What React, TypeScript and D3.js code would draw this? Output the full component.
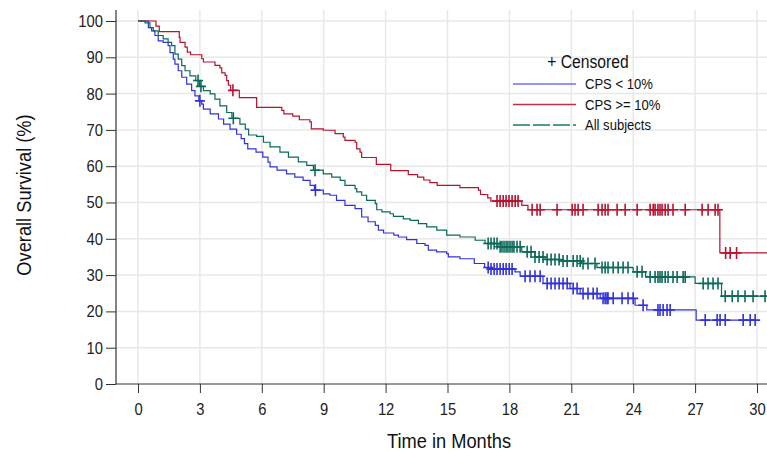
import React, { useEffect, useRef } from "react";
import * as d3 from "d3";

// axis ticks
const xTicks = [0, 3, 6, 9, 12, 15, 18, 21, 24, 27, 30];
const yTicks = [0, 10, 20, 30, 40, 50, 60, 70, 80, 90, 100];

// Kaplan-Meier steps: [month, survival %]
const cpsLowSteps: [number, number][] = [
  [0, 100], [0.5, 98.2], [0.66, 97.3], [0.82, 96], [0.98, 94.5], [1.22, 94.1], [1.46, 93.2],
  [1.55, 91.3], [1.71, 89.5], [1.79, 88.1], [1.95, 86.3], [2.12, 84.5], [2.36, 82.6], [2.6, 80.8],
  [2.76, 79.4], [2.95, 78.0], [3.09, 77.1], [3.17, 75.7], [3.5, 74.4], [3.9, 73.0], [4.15, 71.6],
  [4.46, 70.2], [4.78, 68.8], [5.0, 67.6], [5.16, 66.2], [5.32, 64.8], [5.72, 63.9], [6.05, 62.5],
  [6.3, 61.1], [6.4, 59.8], [6.74, 58.9], [7.2, 57.9], [7.6, 57.0], [8.0, 56.1], [8.34, 54.7],
  [8.55, 53.4], [8.98, 52.4], [9.3, 52.0], [9.62, 50.6], [10.03, 49.2], [10.52, 48.3], [10.84, 46.0],
  [11.15, 44.7], [11.5, 43.7], [11.65, 42.4], [11.9, 41.6], [12.4, 41.0], [12.62, 40.5], [13.02, 39.8],
  [13.51, 38.7], [13.91, 38.2], [14.07, 36.9], [14.47, 36.4], [14.96, 35.9], [15.04, 35.0], [15.6, 34.5],
  [16.3, 33.2], [16.8, 32.1], [17.0, 31.7], [18.27, 30.9], [18.52, 29.7], [19.63, 27.7], [20.94, 26.3],
  [21.43, 24.9], [22.4, 23.6], [24.09, 21.7], [24.66, 20.4], [27.05, 17.6],
];
const cpsLowEnd = 29.95;
const cpsLowCensored = [
  3.0, 8.6, 16.97, 17.11, 17.26, 17.4, 17.55, 17.7, 17.84, 17.99, 18.13, 18.76, 19.0, 19.24, 19.49,
  19.83, 20.02, 20.21, 20.41, 20.6, 20.8, 21.09, 21.28, 21.57, 21.81, 22.06, 22.25, 22.54, 22.64,
  22.73, 22.78, 23.03, 23.46, 23.75, 24.0, 24.48, 25.2, 25.3, 25.45, 25.64, 25.79, 27.49, 28.07,
  28.21, 28.46, 29.33, 29.67, 29.91,
];

const cpsHighSteps: [number, number][] = [
  [0, 100], [0.87, 98.6], [1.03, 97.1], [2.0, 95.5], [2.04, 94.1], [2.28, 92.8], [2.39, 91.4],
  [2.55, 90.7], [3.09, 89.6], [3.17, 88.7], [3.73, 87.8], [3.97, 87.1], [4.06, 85.7], [4.22, 85.0],
  [4.3, 83.6], [4.38, 82.3], [4.49, 80.9], [4.91, 78.9], [5.75, 76.2], [6.97, 75.4], [7.07, 74.4],
  [7.5, 73.8], [7.82, 72.8], [8.33, 72.2], [8.4, 70.3], [8.98, 69.9], [9.55, 69.0], [9.95, 68.0],
  [10.03, 67.1], [10.52, 66.6], [10.6, 64.8], [10.76, 63.9], [10.84, 62.4], [11.55, 60.5], [12.25, 58.8],
  [13.1, 57.7], [13.55, 57.0], [13.85, 56.2], [14.15, 55.5], [14.5, 54.7], [15.6, 54.1], [16.5, 53.4],
  [16.6, 52.2], [16.95, 51.3], [17.1, 50.4], [18.6, 49.2], [18.9, 48.0], [28.2, 36.1],
];
const cpsHighEnd = 30.6;
const cpsHighCensored = [
  4.6, 17.4, 17.55, 17.7, 17.84, 17.98, 18.13, 18.28, 18.42, 19.1, 19.34, 19.49, 20.31, 21.04, 21.18,
  21.33, 21.57, 22.3, 22.49, 22.64, 22.78, 23.22, 23.61, 24.19, 24.82, 24.97, 25.06, 25.2, 25.3, 25.4,
  25.55, 25.69, 25.93, 26.52, 27.34, 27.63, 27.97, 28.11, 28.48, 28.7, 29.01,
];

const allSteps: [number, number][] = [
  [0, 100], [0.34, 99.5], [0.58, 98.2], [0.74, 97.3], [0.98, 96.0], [1.22, 95.1], [1.46, 94.1],
  [1.63, 93.2], [1.79, 90.9], [1.95, 89.5], [2.12, 87.7], [2.28, 86.3], [2.52, 84.9], [2.8, 83.6],
  [2.98, 82.0], [3.17, 80.8], [3.5, 79.9], [3.73, 78.5], [3.97, 76.6], [4.3, 74.8], [4.55, 73.2],
  [4.94, 71.6], [5.2, 70.2], [5.36, 68.6], [5.75, 68.2], [6.08, 66.6], [6.4, 65.3], [6.88, 63.9],
  [7.29, 62.5], [7.77, 61.2], [8.18, 60.2], [8.5, 58.9], [8.98, 57.9], [9.39, 57.0], [9.8, 56.1],
  [10.03, 54.7], [10.52, 53.8], [10.6, 52.9], [10.84, 52.0], [11.08, 50.6], [11.5, 49.7], [11.57, 48.0],
  [11.82, 47.4], [12.22, 46.9], [12.38, 46.2], [12.86, 45.5], [13.19, 45.1], [13.59, 44.2], [13.99, 43.3],
  [14.48, 42.4], [14.96, 41.0], [15.6, 40.5], [16.34, 39.6], [16.82, 38.7], [17.45, 37.8], [18.6, 36.4],
  [19.24, 35.0], [19.73, 34.3], [20.5, 33.9], [21.5, 33.2], [22.24, 32.1], [24.0, 30.9], [24.6, 29.5],
  [27.0, 27.7], [28.28, 24.2],
];
const allEnd = 30.6;
const allCensored = [
  2.91, 3.05, 4.62, 8.58, 16.97, 17.11, 17.26, 17.4, 17.55, 17.64, 17.74, 17.84, 17.93, 18.03, 18.13,
  18.22, 18.37, 18.52, 18.86, 19.05, 19.24, 19.44, 19.63, 19.83, 20.02, 20.21, 20.41, 20.6, 20.8,
  21.09, 21.28, 21.43, 21.57, 21.81, 22.15, 22.49, 22.64, 22.78, 23.03, 23.27, 23.51, 23.75, 24.19,
  24.43, 24.82, 25.06, 25.2, 25.3, 25.4, 25.55, 25.69, 25.93, 26.13, 26.42, 26.52, 27.39, 27.63,
  27.87, 28.11, 28.46, 28.8, 29.08, 29.42, 29.81, 30.39,
];

const seriesNames = ["CPS < 10%", "CPS >= 10%", "All subjects"];
const seriesColors = ["#3232dc", "#b8122e", "#0b6a5a"];
const legendColors = ["#7070f0", "#c03040", "#1a7a66"];

const survivalAt = (steps: [number, number][], t: number) => {
  let s = steps[0][1];
  steps.forEach(([ti, si]) => {
    if (ti <= t) s = si;
  });
  return s;
};

const App = () => {
  const svgRef = useRef<SVGSVGElement>(null);

  useEffect(() => {
    const width = 767,
      height = 456;
    const font = "'Liberation Sans', Arial, sans-serif";
    const narrow = 0.87; // reference text is condensed

    const svg = d3.select(svgRef.current);
    svg.selectAll("*").remove();
    svg.attr("width", width).attr("height", height);

    const x = d3.scaleLinear().domain([0, 30]).range([138, 757]);
    const y = d3.scaleLinear().domain([0, 100]).range([384, 21]);
    const left = 116,
      top = 10;

    // gridlines
    svg
      .append("g")
      .selectAll("line")
      .data(xTicks)
      .enter()
      .append("line")
      .attr("x1", (d) => x(d))
      .attr("x2", (d) => x(d))
      .attr("y1", top)
      .attr("y2", y(0))
      .attr("stroke", "#e8e8e8")
      .attr("stroke-width", 1.5);

    svg
      .append("g")
      .selectAll("line")
      .data(yTicks.slice(1))
      .enter()
      .append("line")
      .attr("x1", left)
      .attr("x2", width)
      .attr("y1", (d) => y(d))
      .attr("y2", (d) => y(d))
      .attr("stroke", "#e8e8e8")
      .attr("stroke-width", 1.5);

    // x axis
    const gx = svg
      .append("g")
      .attr("transform", `translate(0, ${y(0)})`)
      .call(d3.axisBottom(x).tickValues(xTicks).tickSize(9).tickPadding(10));
    gx.select(".domain").remove();
    gx.selectAll("line").attr("stroke", "#333");
    gx.selectAll("text")
      .attr("font-family", font)
      .attr("font-size", 17)
      .attr("fill", "#222")
      .attr("transform", `scale(${narrow},1)`);

    // y axis
    const gy = svg
      .append("g")
      .attr("transform", `translate(${left}, 0)`)
      .call(d3.axisLeft(y).tickValues(yTicks).tickSize(10).tickPadding(3));
    gy.select(".domain").remove();
    gy.selectAll("line").attr("stroke", "#333");
    gy.selectAll("text")
      .attr("font-family", font)
      .attr("font-size", 17)
      .attr("fill", "#222")
      .attr("x", -13 / narrow)
      .attr("transform", `scale(${narrow},1)`);

    svg
      .append("line")
      .attr("x1", left)
      .attr("x2", width)
      .attr("y1", y(0))
      .attr("y2", y(0))
      .attr("stroke", "#333")
      .attr("stroke-width", 1.2);
    svg
      .append("line")
      .attr("x1", left)
      .attr("x2", left)
      .attr("y1", top)
      .attr("y2", y(0))
      .attr("stroke", "#333")
      .attr("stroke-width", 1.2);

    // axis titles
    svg
      .append("text")
      .attr("transform", `translate(449, 448) scale(${narrow},1)`)
      .attr("text-anchor", "middle")
      .attr("font-family", font)
      .attr("font-size", 21)
      .attr("fill", "#111")
      .text("Time in Months");

    svg
      .append("text")
      .attr("transform", `translate(31, 195) rotate(-90) scale(${narrow},1)`)
      .attr("text-anchor", "middle")
      .attr("font-family", font)
      .attr("font-size", 21)
      .attr("fill", "#111")
      .text("Overall Survival (%)");

    // curves
    const line = d3
      .line<[number, number]>()
      .x((d) => x(d[0]))
      .y((d) => y(d[1]))
      .curve(d3.curveStepAfter);

    const groups = [
      { steps: cpsLowSteps, end: cpsLowEnd, censored: cpsLowCensored },
      { steps: cpsHighSteps, end: cpsHighEnd, censored: cpsHighCensored },
      { steps: allSteps, end: allEnd, censored: allCensored },
    ];

    groups.forEach((g, i) => {
      const pts: [number, number][] = [...g.steps, [g.end, g.steps[g.steps.length - 1][1]]];
      svg
        .append("path")
        .attr("d", line(pts))
        .attr("fill", "none")
        .attr("stroke", seriesColors[i])
        .attr("stroke-width", 1.2);
    });

    groups.forEach((g, i) => {
      svg
        .append("g")
        .selectAll("path")
        .data(g.censored)
        .enter()
        .append("path")
        .attr("transform", (d) => `translate(${x(d)}, ${y(survivalAt(g.steps, d))})`)
        .attr("d", "M-5,0H5M0,-6V6")
        .attr("stroke", seriesColors[i])
        .attr("stroke-width", 1.6)
        .attr("fill", "none");
    });

    // legend
    const legend = svg.append("g");
    legend
      .append("text")
      .attr("transform", `translate(588, 62) scale(${narrow},1)`)
      .attr("dy", "0.35em")
      .attr("text-anchor", "middle")
      .attr("font-family", font)
      .attr("font-size", 18)
      .attr("fill", "#111")
      .text("+ Censored");

    seriesNames.forEach((name, i) => {
      const ly = 84 + i * 20.5;
      legend
        .append("line")
        .attr("x1", 513)
        .attr("x2", 576)
        .attr("y1", ly)
        .attr("y2", ly)
        .attr("stroke", legendColors[i])
        .attr("stroke-width", 1.3)
        .attr("stroke-dasharray", i === 2 ? "17,3" : null);
      legend
        .append("text")
        .attr("transform", `translate(585, ${ly}) scale(${narrow},1)`)
        .attr("dy", "0.35em")
        .attr("font-family", font)
        .attr("font-size", 15)
        .attr("fill", "#111")
        .text(name);
    });
  }, []);

  return <svg ref={svgRef} style={{ position: "absolute", left: 0, top: 0 }}></svg>;
};

export default App;
